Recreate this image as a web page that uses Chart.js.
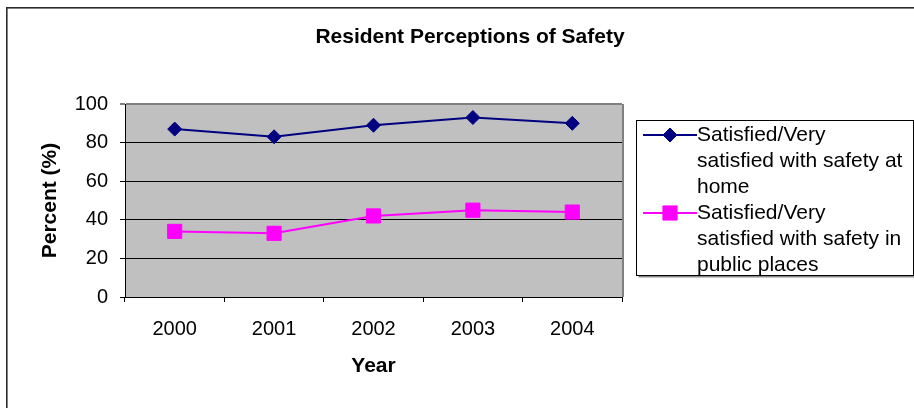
<!DOCTYPE html>
<html>
<head>
<meta charset="utf-8">
<title>Resident Perceptions of Safety</title>
<script src="https://cdn.jsdelivr.net/npm/chart.js@4/dist/chart.umd.min.js"></script>
<style>
  html, body { margin: 0; padding: 0; background: #ffffff; }
  #wrap { width: 914px; height: 408px; }
</style>
</head>
<body>
<div id="wrap"><canvas id="chart" width="914" height="408"></canvas></div>
<script>
// Survey years and the share of residents satisfied with safety (%)
const years = ['2000', '2001', '2002', '2003', '2004'];
const atHome = [87, 83, 89, 93, 90];
const inPublic = [34, 33, 42, 45, 44];
const seriesNames = [
  ['Satisfied/Very', 'satisfied with safety at', 'home'],
  ['Satisfied/Very', 'satisfied with safety in', 'public places']
];
const yTicks = [0, 20, 40, 60, 80, 100];

const FONT = "'Liberation Sans', Arial, sans-serif";
const TICK_SIZE = 20;
const TITLE_SIZE = 21;
const LEGEND_SIZE = 21;

// Gray plot background, gray frame and the outer chart border
const framePlugin = {
  id: 'frame',
  beforeDraw(chart) {
    const { ctx, chartArea: a } = chart;
    ctx.save();
    ctx.fillStyle = '#ffffff';
    ctx.fillRect(0, 0, chart.width, chart.height);
    ctx.fillStyle = '#2b2b2b';
    ctx.fillRect(6, 7, chart.width, 1.6);
    ctx.fillRect(6, 7, 1.6, chart.height);
    ctx.fillStyle = '#c0c0c0';
    ctx.fillRect(a.left, a.top, a.right - a.left, a.bottom - a.top);
    ctx.restore();
  },
  afterDatasetsDraw(chart) {
    const { ctx, chartArea: a } = chart;
    ctx.save();
    ctx.strokeStyle = '#808080';
    ctx.lineWidth = 2;
    ctx.beginPath();
    ctx.moveTo(a.right + 1, a.top);
    ctx.lineTo(a.right + 1, a.bottom);
    ctx.stroke();
    ctx.restore();
  }
};

// Boxed legend with wrapped series names on the right
const sideLegend = {
  id: 'sideLegend',
  afterDraw(chart) {
    const { ctx } = chart;
    const box = { x: 636.5, y: 120.5, w: 277, h: 155 };
    ctx.save();
    ctx.fillStyle = '#ffffff';
    ctx.fillRect(box.x, box.y, box.w, box.h);
    ctx.strokeStyle = '#8a8a8a';
    ctx.lineWidth = 2;
    ctx.beginPath();
    ctx.moveTo(box.x + 2, box.y + box.h + 1);
    ctx.lineTo(box.x + box.w + 2, box.y + box.h + 1);
    ctx.stroke();
    ctx.strokeStyle = '#000000';
    ctx.lineWidth = 1;
    ctx.strokeRect(box.x, box.y, box.w, box.h);

    const lineH = 26;
    let y = 135;
    chart.data.datasets.forEach((ds, i) => {
      ctx.strokeStyle = ds.borderColor;
      ctx.lineWidth = ds.borderWidth;
      ctx.beginPath();
      ctx.moveTo(643, y);
      ctx.lineTo(697, y);
      ctx.stroke();
      ctx.fillStyle = ds.pointBackgroundColor;
      ctx.strokeStyle = ds.pointBorderColor;
      ctx.lineWidth = ds.pointBorderWidth;
      Chart.helpers.drawPoint(ctx, {
        pointStyle: ds.pointStyle,
        radius: ds.pointRadius,
        borderWidth: ds.pointBorderWidth,
        rotation: 0
      }, 670, y);
      ctx.fillStyle = '#000000';
      ctx.font = LEGEND_SIZE + 'px ' + FONT;
      ctx.textAlign = 'left';
      ctx.textBaseline = 'middle';
      seriesNames[i].forEach((t, k) => ctx.fillText(t, 697, y + k * lineH));
      y += seriesNames[i].length * lineH;
    });
    ctx.restore();
  }
};

new Chart(document.getElementById('chart'), {
  type: 'line',
  data: {
    labels: years,
    datasets: [
      {
        label: seriesNames[0].join(' '),
        data: atHome,
        borderColor: '#000080',
        borderWidth: 2,
        pointStyle: 'rectRot',
        pointRadius: 7,
        pointBackgroundColor: '#000080',
        pointBorderColor: '#000080',
        pointBorderWidth: 1,
        tension: 0,
        yAxisID: 'y'
      },
      {
        label: seriesNames[1].join(' '),
        data: inPublic,
        borderColor: '#ff00ff',
        borderWidth: 2,
        pointStyle: 'rect',
        pointRadius: 10,
        pointBackgroundColor: '#ff00ff',
        pointBorderColor: '#ff00ff',
        pointBorderWidth: 1,
        tension: 0,
        yAxisID: 'y'
      }
    ]
  },
  options: {
    responsive: false,
    animation: false,
    devicePixelRatio: 1,
    layout: { padding: { left: 26, right: 0, top: 0, bottom: 0 } },
    plugins: {
      legend: { display: false },
      tooltip: { enabled: false },
      title: {
        display: true,
        text: 'Resident Perceptions of Safety',
        color: '#000000',
        font: { family: FONT, size: TITLE_SIZE, weight: 'bold', lineHeight: 1.2 },
        padding: { top: 25, bottom: 53.8 }
      }
    },
    scales: {
      x: {
        type: 'category',
        offset: true,
        afterFit(scale) { scale.height = 111; },
        grid: {
          offset: true,
          drawOnChartArea: false,
          drawTicks: true,
          tickLength: 5,
          color: '#000000',
          lineWidth: 1
        },
        border: { color: '#000000', width: 1 },
        ticks: {
          color: '#000000',
          font: { family: FONT, size: TICK_SIZE },
          padding: 15,
          maxRotation: 0
        },
        title: {
          display: true,
          text: 'Year',
          color: '#000000',
          font: { family: FONT, size: TITLE_SIZE, weight: 'bold', lineHeight: 1.2 },
          padding: { top: 29, bottom: 29 }
        }
      },
      y: {
        min: 0,
        max: 100,
        afterFit(scale) { scale.width = 99; },
        afterBuildTicks(scale) { scale.ticks = yTicks.map(v => ({ value: v })); },
        grid: {
          drawOnChartArea: true,
          drawTicks: true,
          tickLength: 5,
          color: ctx => (ctx.tick && ctx.tick.value === 100 ? '#808080' : '#000000'),
          lineWidth: ctx => (ctx.tick && ctx.tick.value === 100 ? 2 : 1)
        },
        border: { color: '#000000', width: 1 },
        ticks: {
          color: '#000000',
          font: { family: FONT, size: TICK_SIZE },
          padding: 12
        },
        title: {
          display: true,
          text: 'Percent (%)',
          color: '#000000',
          font: { family: FONT, size: TITLE_SIZE, weight: 'bold', lineHeight: 1.2 },
          padding: { top: 12, bottom: 12 }
        }
      },
      // Blank right-hand axis that reserves room for the legend
      legendSpace: {
        type: 'linear',
        position: 'right',
        min: 0,
        max: 100,
        afterFit(scale) { scale.width = 292; },
        grid: { display: false, drawOnChartArea: false },
        border: { display: false },
        ticks: { display: false }
      }
    }
  },
  plugins: [framePlugin, sideLegend]
});
</script>
</body>
</html>
